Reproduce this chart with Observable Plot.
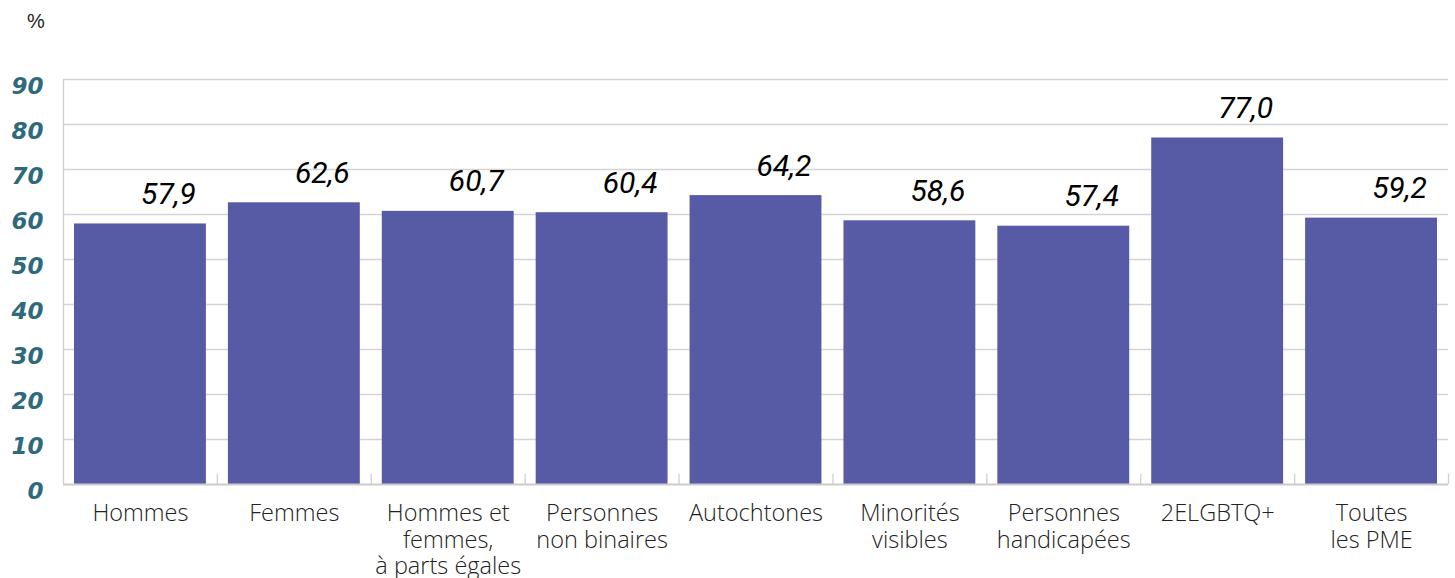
<!DOCTYPE html>
<html>
<head>
<meta charset="utf-8">
<script src="https://cdn.jsdelivr.net/npm/d3@7"></script>
<script src="https://cdn.jsdelivr.net/npm/@observablehq/plot@0.6"></script>
<style>
  html, body { margin: 0; padding: 0; background: #fff; }
  #wrap { position: relative; width: 1455px; height: 578px; overflow: hidden; }
  #unit { position: absolute; left: 27px; top: 10px; font: 20px "Liberation Sans", Arial, sans-serif; color: #222; }
</style>
</head>
<body>
<div id="wrap">
  <div id="unit">%</div>
  <div id="chart"></div>
</div>
<script>
const categories = [
  "Hommes",
  "Femmes",
  "Hommes et\nfemmes,\nà parts égales",
  "Personnes\nnon binaires",
  "Autochtones",
  "Minorités\nvisibles",
  "Personnes\nhandicapées",
  "2ELGBTQ+",
  "Toutes\nles PME"
];
const values = [57.9, 62.6, 60.7, 60.4, 64.2, 58.6, 57.4, 77.0, 59.2];
const yTicks = [0, 10, 20, 30, 40, 50, 60, 70, 80, 90];

const data = categories.map((c, i) => ({i, category: c, value: values[i]}));
const boundaries = d3.range(1, categories.length + 1);
const fmt = v => v.toFixed(1).replace(".", ",");

const chart = Plot.plot({
  width: 1455,
  height: 578,
  marginLeft: 63,
  marginRight: 7,
  marginTop: 79,
  marginBottom: 94,
  x: {type: "linear", domain: [0, categories.length], axis: null},
  y: {type: "linear", domain: [0, 90], axis: null, label: null},
  marks: [
    Plot.gridY(yTicks.slice(1), {stroke: "#d4d4d4", strokeOpacity: 1, strokeWidth: 1.3}),
    Plot.ruleX([0], {y1: 0, y2: 90, stroke: "#d0d0d0", strokeWidth: 1.3}),
    Plot.ruleX(boundaries, {y1: 0, y2: 2.3, stroke: "#d0d0d0", strokeWidth: 1.3}),
    Plot.rectY(data, {
      x1: d => d.i, x2: d => d.i + 1, y1: 0, y2: "value",
      insetLeft: 11, insetRight: 11, fill: "#575aa5"
    }),
    Plot.ruleY([0], {stroke: "#cccccc", strokeWidth: 2}),
    Plot.text(data, {
      x: d => d.i + 0.5, y: "value", text: d => fmt(d.value),
      lineAnchor: "bottom", dy: -20, dx: 28,
      fontSize: 30, fontStyle: "italic", fontFamily: "Roboto, 'Liberation Sans', sans-serif",
      fill: "#000"
    }),
    Plot.text(data, {
      x: d => d.i + 0.5, y: 0, text: "category",
      lineAnchor: "top", dy: 18, lineHeight: 1.13,
      fontSize: 23.5, fontWeight: 300, fontFamily: "'Open Sans', sans-serif",
      fill: "#222"
    }),
    Plot.axisY(yTicks, {
      label: null,
      tickSize: 0, tickPadding: 20, dy: 7,
      fontSize: 23, fontWeight: "bold", fontStyle: "italic",
      fontFamily: "'DejaVu Sans', sans-serif", fill: "#2e6a7b"
    })
  ]
});
document.getElementById("chart").appendChild(chart);
</script>
</body>
</html>
